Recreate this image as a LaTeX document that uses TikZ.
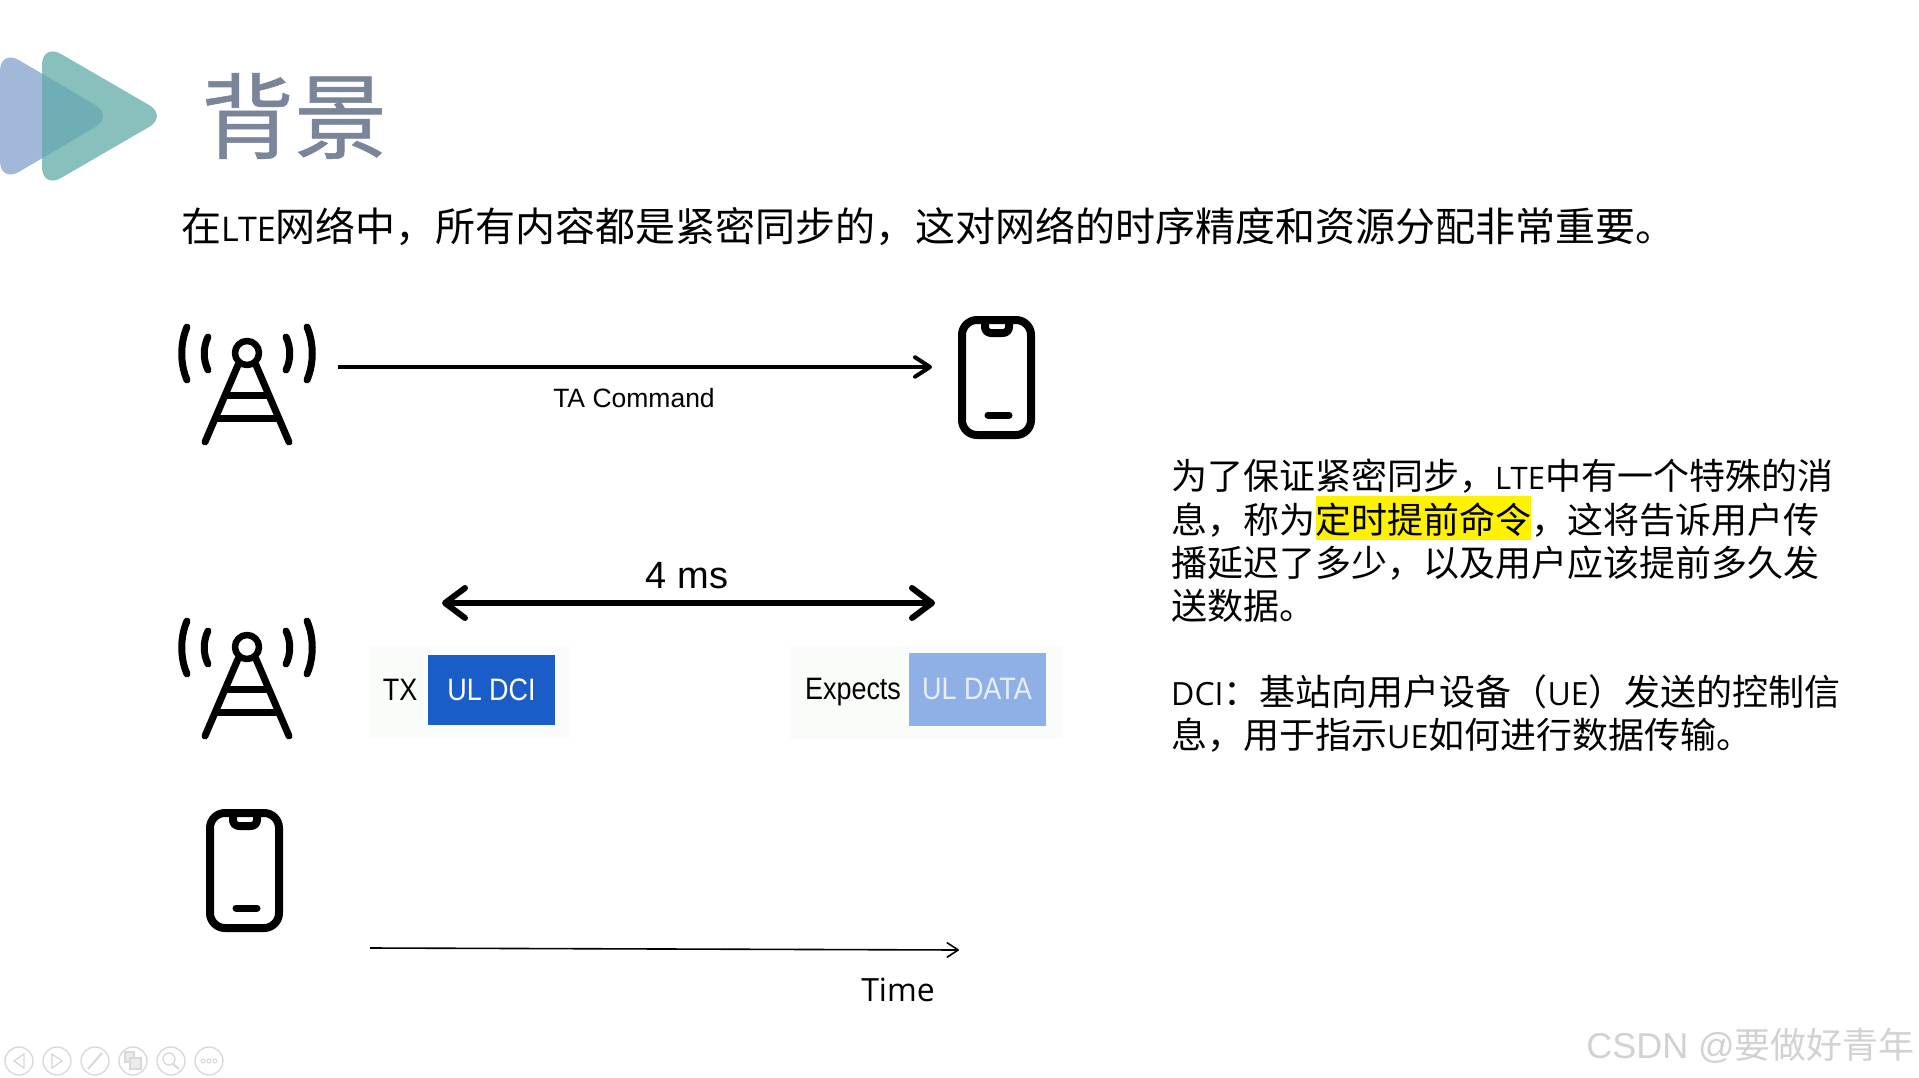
\documentclass[tikz,border=0pt]{standalone}
\usepackage{fontspec}
\setmainfont{Noto Sans CJK SC}
\newfontfamily\titlef[FakeBold=0.6]{Noto Sans CJK SC}
\newfontfamily\latf{Open Sans}
\newfontfamily\arialf{Liberation Sans}
\newfontfamily\condf[FakeStretch=0.87]{Liberation Sans}
\usetikzlibrary{arrows.meta}
\definecolor{titlegray}{HTML}{7A8599}
\definecolor{logoblue}{HTML}{7F9DCB}
\definecolor{logogreen}{HTML}{5FABA8}
\definecolor{dcibox}{HTML}{1B5DC8}
\definecolor{databox}{HTML}{8FB0E6}
\definecolor{datatext}{HTML}{E6EFFA}
\definecolor{imgbg}{HTML}{FAFCFA}
\definecolor{navgray}{HTML}{D8D8D8}
\definecolor{wm}{HTML}{D2D2D2}
\tikzset{
  x=1pt,y=-1pt,
  txt/.style={anchor=west,inner sep=0pt,text=black},
  fs/.style={font=\fontsize{#1}{#1}\selectfont},
  icon/.style={line width=7pt,line cap=round,line join=round,black},
  navline/.style={navgray,line width=1.3pt},
  pics/tower/.style={code={
    \draw[icon,line width=6.5pt] (0,0) circle (12);
    \draw[icon] (-9,12) -- (-42,89) (9,12) -- (42,89);
    \draw[icon,line cap=butt] (-20,42) -- (20,42) (-30,65) -- (30,65);
    \draw[icon] (-39,-16) .. controls (-44,-6) and (-44,7) .. (-39,17);
    \draw[icon] (39,-16) .. controls (44,-6) and (44,7) .. (39,17);
    \draw[icon] (-60,-26) .. controls (-67,-10) and (-67,11) .. (-60,27);
    \draw[icon] (60,-26) .. controls (67,-10) and (67,11) .. (60,27);
  }},
  pics/phone/.style={code={
    \draw[icon,line width=8pt,rounded corners=15pt] (0,0) rectangle (69,115);
    \draw[icon,line width=8pt,rounded corners=6pt] (23,0) -- (23,13) -- (47,13) -- (47,0);
    \draw[icon] (26,95) -- (47,95);
  }},
  openhead/.style={-{Straight Barb[length=#1,width=#1*1.3,round]}}
}
\begin{document}
\begin{tikzpicture}
\useasboundingbox[fill=white] (0,0) rectangle (1919,1078);
% logo
\fill[logoblue,opacity=.72,rounded corners=22pt] (0,49) -- (114,116) -- (0,183) -- cycle;
\fill[logogreen,opacity=.75,rounded corners=22pt] (42,43) -- (168,116) -- (42,189) -- cycle;
\node[txt,font=\titlef\fontsize{93}{93}\selectfont,text=titlegray] (title) at (201,116) {背景};
\node[txt,fs=40] (head) at (181,227) {在{\latf\fontsize{34}{34}\selectfont LTE}网络中，所有内容都是紧密同步的，这对网络的时序精度和资源分配非常重要。};
% top row
\pic at (247,353) {tower};
\pic at (962,320) {phone};
\coordinate (taS) at (338,367);
\coordinate (taE) at (932,367);
\draw[line width=4pt,openhead=15pt] (taS) -- (taE);
\node[inner sep=0pt,font=\arialf\fontsize{26.5}{27}\selectfont] (talabel) at (634,398) {TA Command};
% middle row
\pic at (247,647) {tower};
\pic at (210,813) {phone};
\fill[imgbg] (370,646) rectangle (570,738);
\fill[imgbg] (790,646) rectangle (1063,739);
\node[inner sep=0pt,font=\condf\fontsize{31}{31}\selectfont] (tx) at (400,690) {TX};
\node[fill=dcibox,text=white,minimum width=127pt,minimum height=70pt,inner sep=0pt,font=\condf\fontsize{31}{31}\selectfont] (dci) at (491.5,690) {UL DCI};
\node[inner sep=0pt,font=\condf\fontsize{31}{31}\selectfont] (expects) at (853,692) {Expects};
\node[fill=databox,text=datatext,minimum width=137pt,minimum height=73pt,inner sep=0pt,font=\condf\fontsize{31}{31}\selectfont] (data) at (977,689) {UL DATA};
\node[inner sep=0pt,font=\arialf\fontsize{38}{38}\selectfont] (fourms) at (687,576) {4 ms};
\coordinate (msS) at (442,603);
\coordinate (msE) at (935,603);
\draw[line width=6pt,{Straight Barb[length=20pt,width=30pt,round]}-{Straight Barb[length=20pt,width=30pt,round]}] (msS) -- (msE);
\coordinate (tS) at (370,948);
\coordinate (tE) at (959,950);
\draw[line width=1.6pt,openhead=11pt] (tS) -- (tE);
\node[inner sep=0pt,font=\latf\fontsize{32}{32}\selectfont] (time) at (898,990) {Time};
% right text
\fill[yellow] (1316,496) rectangle (1531,540);
\node[txt,fs=36] at (1171,476) {为了保证紧密同步，{\latf\fontsize{31}{31}\selectfont LTE}中有一个特殊的消};
\node[txt,fs=36] at (1171,520) {息，称为定时提前命令，这将告诉用户传};
\node[txt,fs=36] at (1171,563) {播延迟了多少，以及用户应该提前多久发};
\node[txt,fs=36] at (1171,606) {送数据。};
\node[txt,fs=36] at (1171,692) {{\latf\fontsize{32}{32}\selectfont DCI}：基站向用户设备（{\latf\fontsize{32}{32}\selectfont UE}）发送的控制信};
\node[txt,fs=36] at (1171,735) {息，用于指示{\latf\fontsize{32}{32}\selectfont UE}如何进行数据传输。};
% nav
\foreach \c in {19,57,95,133,171,209}{\draw[navline] (\c,1061) circle (14);}
\draw[navline] (24,1054) -- (14,1061) -- (24,1068) -- cycle;
\draw[navline] (52,1054) -- (62,1061) -- (52,1068) -- cycle;
\draw[navline,line width=2pt] (88,1069) -- (102,1053);
\draw[navline,fill=navgray!50] (125,1052) rectangle (134,1062);
\draw[navline,fill=navgray!50] (130,1058) rectangle (141,1069);
\draw[navline] (169,1059) circle (6);
\draw[navline,line width=2pt] (173,1064) -- (179,1069);
\foreach \c in {203,209,215}{\draw[navline,line width=1pt] (\c,1061) circle (2);}
% watermark
\node[anchor=east,inner sep=0pt,text=wm,font=\arialf\fontsize{36}{36}\selectfont] (mark) at (1915,1046) {CSDN @{\rmfamily\fontsize{36}{36}\selectfont 要做好青年}};
\end{tikzpicture}
\end{document}
